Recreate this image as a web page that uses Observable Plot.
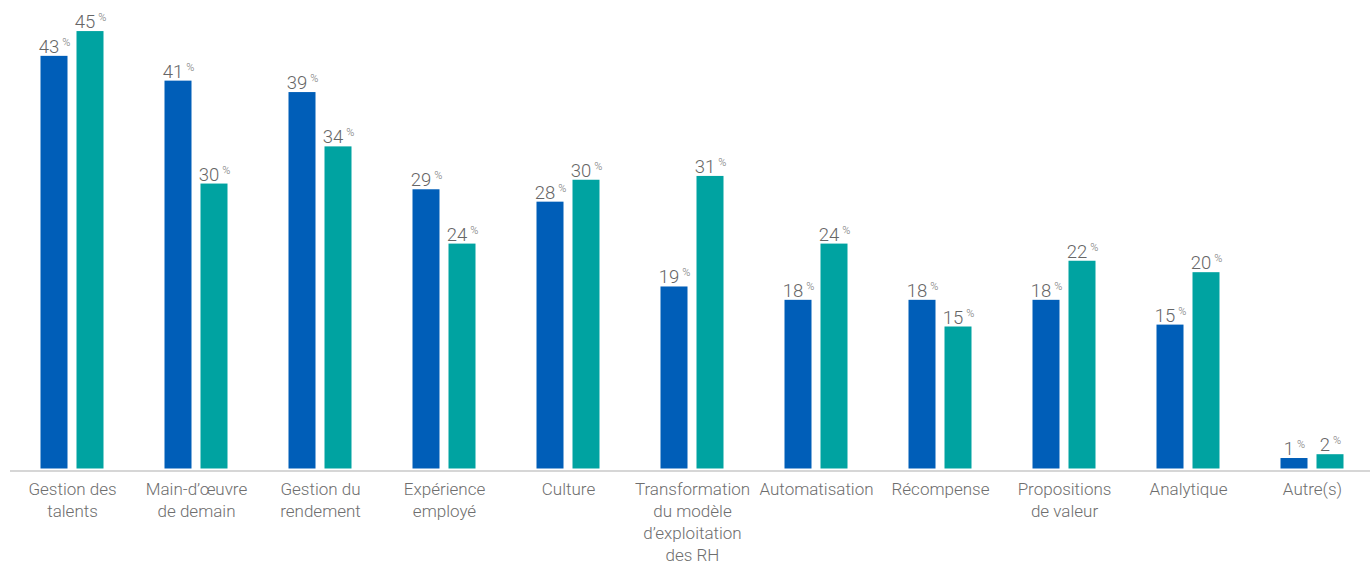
<!DOCTYPE html>
<html><head><meta charset="utf-8">
<script src="https://cdn.jsdelivr.net/npm/d3@7"></script>
<script src="https://cdn.jsdelivr.net/npm/@observablehq/plot@0.6"></script>
<style>
html,body{margin:0;padding:0;background:#fff;}
#chart svg{display:block;}
</style>
</head><body><div id="chart"></div>
<script>
const categories = ["Gestion des\ntalents", "Main-d’œuvre\nde demain", "Gestion du\nrendement", "Expérience\nemployé", "Culture", "Transformation\ndu modèle\nd’exploitation\ndes RH", "Automatisation", "Récompense", "Propositions\nde valeur", "Analytique", "Autre(s)"];
const series = ["Série 1", "Série 2"];
const valuesA = [43.3, 40.7, 39.5, 29.3, 28.0, 19.1, 17.7, 17.7, 17.7, 15.1, 1.1];
const valuesB = [45.9, 29.9, 33.8, 23.6, 30.3, 30.7, 23.6, 14.9, 21.8, 20.6, 1.5];
const labelsA = [43, 41, 39, 29, 28, 19, 18, 18, 18, 15, 1];
const labelsB = [45, 30, 34, 24, 30, 31, 24, 15, 22, 20, 2];
const colors = ["#005EB8", "#00A3A1"];

const rows = [];
categories.forEach((c, i) => {
  rows.push({category: c, series: series[0], value: valuesA[i], label: labelsA[i]});
  rows.push({category: c, series: series[1], value: valuesB[i], label: labelsB[i]});
});

const plot = Plot.plot({
  width: 1370, height: 564,
  marginTop: 30.12, marginBottom: 95.5, marginLeft: 9.5, marginRight: 0,
  fx: {domain: categories, range: [9.5, 1373.5], padding: 0, label: null},
  x: {domain: series, paddingInner: 0.25, paddingOuter: 0.847, axis: null},
  y: {domain: [0, 46], axis: null},
  color: {domain: series, range: colors},
  style: {fontFamily: "Roboto, 'Liberation Sans', sans-serif", fontWeight: 300, background: "#fff"},
  marks: [
    Plot.barY(rows, {fx: "category", x: "series", y: "value", fill: "series"}),
    Plot.ruleY([0], {stroke: "#d6d6d6", strokeWidth: 2, dy: 2}),
    Plot.text(rows, {fx: "category", x: "series", y: "value", text: d => String(d.label), lineAnchor: "bottom", dy: -3.5, fill: "#666666", fontSize: 18.5}),
    Plot.axisFx({anchor: "bottom", tickSize: 0, tickPadding: 10.5, fontSize: 17, lineHeight: 1.3, lineAnchor: "top", fill: "#6e6e6e", label: null})
  ]
});

d3.select(plot).selectAll('g[aria-label="text"] text').each(function() {
  const t = this.textContent;
  const sel = d3.select(this);
  sel.text(null);
  sel.append("tspan").text(t);
  sel.append("tspan").attr("font-size", 11).attr("fill", "#777").attr("dx", 3).attr("dy", -7).text("%");
});

document.getElementById("chart").appendChild(plot);
</script>
</body></html>
